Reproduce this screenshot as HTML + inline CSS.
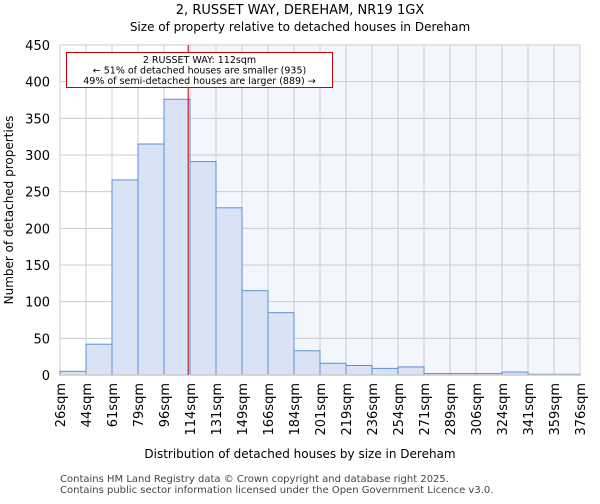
<!DOCTYPE html>
<html><head><meta charset="utf-8"><style>
body{margin:0;background:#fff;font-family:"DejaVu Sans","Liberation Sans",sans-serif}
</style></head><body>
<svg id="c" width="600" height="500" xmlns="http://www.w3.org/2000/svg" font-family="DejaVu Sans, Liberation Sans, sans-serif">
<text x="300" y="14" text-anchor="middle" font-size="13">2, RUSSET WAY, DEREHAM, NR19 1GX</text>
<text x="300" y="31" text-anchor="middle" font-size="12">Size of property relative to detached houses in Dereham</text>
<g id="plot"></g>
<text x="300" y="458" text-anchor="middle" font-size="12">Distribution of detached houses by size in Dereham</text>
<text transform="translate(13,210) rotate(-90)" text-anchor="middle" font-size="12">Number of detached properties</text>
<text x="60" y="482" font-size="10" fill="#444">Contains HM Land Registry data © Crown copyright and database right 2025.</text>
<text x="60" y="493" font-size="10" fill="#444">Contains public sector information licensed under the Open Government Licence v3.0.</text>
</svg>
<script>
const binLabels=["26sqm","44sqm","61sqm","79sqm","96sqm","114sqm","131sqm","149sqm","166sqm","184sqm","201sqm","219sqm","236sqm","254sqm","271sqm","289sqm","306sqm","324sqm","341sqm","359sqm","376sqm"];
const counts=[5,42,266,315,376,291,228,115,85,33,16,13,9,11,2,2,2,4,1,1];
const yTicks=[0,50,100,150,200,250,300,350,400,450];
const propertyBinPos=4.93;
const NS="http://www.w3.org/2000/svg";
const X0=60,X1=580,Y0=375,Y1=45,YMAX=450;
const bw=(X1-X0)/counts.length;
const xs=i=>X0+i*bw;
const ys=v=>Y0-(v/YMAX)*(Y0-Y1);
const g=document.getElementById('plot');
function mk(t,a){const e=document.createElementNS(NS,t);for(const k in a)e.setAttribute(k,a[k]);g.appendChild(e);return e;}
const lx=xs(propertyBinPos);
let e=mk('rect',{x:lx,y:Y1,width:X1-lx,height:Y0-Y1,fill:'#f3f6fd'});


yTicks.forEach(t=>{
 let l=mk('line',{x1:X0,x2:X1,y1:ys(t),y2:ys(t),stroke:'#ccc','stroke-width':1});
 
 
 let tx=mk('text',{x:X0-10,y:ys(t)+5,'text-anchor':'end','font-size':13});
 tx.textContent=t;
 
 
});
binLabels.forEach((b,i)=>{
 let l=mk('line',{x1:xs(i),x2:xs(i),y1:Y1,y2:Y0,stroke:'#ccc','stroke-width':1});
 
 
 let tx=mk('text',{transform:`translate(${xs(i)+5},${Y0+8}) rotate(-90)`,'text-anchor':'end','font-size':13});
 tx.textContent=b;
 
 
});
counts.forEach((c,i)=>{
 let r=mk('rect',{x:xs(i),y:ys(c),width:bw,height:Y0-ys(c),fill:'#d9e3f5',stroke:'#5b8fd6','stroke-width':1});
 
 
});
e=mk('line',{x1:X0,x2:X1,y1:Y0,y2:Y0,stroke:'#ccc','stroke-width':1.5});


e=mk('line',{x1:lx,x2:lx,y1:Y1,y2:Y0,stroke:'#b00','stroke-width':1});


e=mk('rect',{x:66.5,y:52.5,width:266,height:35,fill:'#fff',stroke:'#c00','stroke-width':1});


["2 RUSSET WAY: 112sqm","← 51% of detached houses are smaller (935)","49% of semi-detached houses are larger (889) →"].forEach((s,i)=>{
 let t=mk('text',{x:199.5,y:63+i*10.5,'text-anchor':'middle','font-size':9.5});
 t.textContent=s;
 
 
});
</script>
</body></html>
